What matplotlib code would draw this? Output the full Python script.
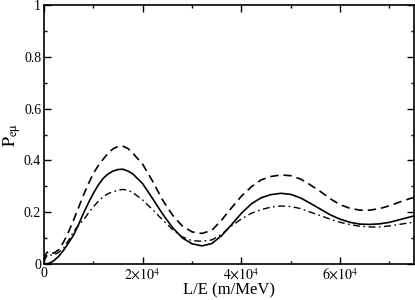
import matplotlib
matplotlib.use("Agg")
import matplotlib.pyplot as plt
from matplotlib.ticker import MultipleLocator, FuncFormatter

plt.rcParams['font.family'] = ['Liberation Serif', 'DejaVu Serif']
plt.rcParams['mathtext.fontset'] = 'stix'

# L/E in units of 1e4 m/MeV
le = [0, 0.05, 0.1, 0.15, 0.2, 0.3, 0.4, 0.5, 0.6, 0.7, 0.8, 0.9, 1.0, 1.1, 1.2, 1.3, 1.4,
      1.5, 1.6, 1.7, 1.8, 2.0, 2.2, 2.4, 2.6, 2.8, 3.0, 3.2, 3.4, 3.6, 3.8, 4.0, 4.2, 4.4,
      4.6, 4.8, 5.0, 5.2, 5.4, 5.6, 5.8, 6.0, 6.2, 6.4, 6.6, 6.8, 7.0, 7.2, 7.4, 7.5]

p_solid = [0, 0.001, 0.003, 0.007, 0.013, 0.03, 0.054, 0.082, 0.112, 0.152, 0.196, 0.236,
           0.273, 0.305, 0.331, 0.348, 0.359, 0.365, 0.366, 0.359, 0.348, 0.31, 0.253,
           0.194, 0.142, 0.101, 0.078, 0.07, 0.079, 0.11, 0.152, 0.196, 0.232, 0.256,
           0.268, 0.273, 0.269, 0.255, 0.234, 0.212, 0.19, 0.173, 0.161, 0.154, 0.153,
           0.155, 0.161, 0.171, 0.181, 0.186]

p_dash = [0.02, 0.042, 0.05, 0.043, 0.042, 0.055, 0.086, 0.125, 0.17, 0.218, 0.266, 0.31,
          0.35, 0.38, 0.405, 0.428, 0.445, 0.454, 0.455, 0.446, 0.428, 0.385, 0.32,
          0.248, 0.19, 0.147, 0.124, 0.118, 0.13, 0.17, 0.217, 0.262, 0.298, 0.325,
          0.338, 0.344, 0.341, 0.328, 0.305, 0.28, 0.252, 0.229, 0.215, 0.208, 0.208,
          0.214, 0.225, 0.239, 0.252, 0.257]

p_dashdot = [0.01, 0.03, 0.038, 0.034, 0.035, 0.045, 0.062, 0.092, 0.125, 0.15, 0.17, 0.197,
             0.221, 0.242, 0.26, 0.272, 0.279, 0.285, 0.288, 0.285, 0.276, 0.247, 0.21,
             0.171, 0.134, 0.105, 0.09, 0.088, 0.093, 0.115, 0.147, 0.174, 0.196, 0.21,
             0.22, 0.224, 0.222, 0.214, 0.2, 0.187, 0.173, 0.161, 0.152, 0.146, 0.143,
             0.143, 0.147, 0.153, 0.159, 0.162]

x = [v * 1e4 for v in le]

fig = plt.figure(figsize=(4.15, 3.0), dpi=100)
ax = fig.add_axes([0.106, 0.12, 0.892, 0.863])

ax.plot(x, p_solid, color='black', lw=1.2)
ax.plot(x, p_dash, color='black', lw=1.2, dashes=(5, 3))
ax.plot(x, p_dashdot, color='black', lw=1.0, dashes=(5, 2.5, 1.2, 2.5))

ax.set_xlim(0, 7.5e4)
ax.set_ylim(0, 1)

ax.xaxis.set_major_locator(MultipleLocator(2e4))
ax.xaxis.set_minor_locator(MultipleLocator(1e4))
ax.yaxis.set_major_locator(MultipleLocator(0.2))
ax.yaxis.set_minor_locator(MultipleLocator(0.1))

def xfmt(v, pos):
    if v == 0:
        return '0'
    return r'$%d{\times}10^4$' % round(v / 1e4)

def yfmt(v, pos):
    if abs(v) < 1e-9:
        return '0'
    if abs(v - 1) < 1e-9:
        return '1'
    return '%.1f' % v

ax.xaxis.set_major_formatter(FuncFormatter(xfmt))
ax.yaxis.set_major_formatter(FuncFormatter(yfmt))

ax.tick_params(which='both', direction='in', top=True, right=True, labelsize=10, width=1)
ax.tick_params(which='major', length=5)
ax.tick_params(which='minor', length=2.5)
ax.tick_params(axis='x', pad=2)
ax.tick_params(axis='y', pad=2)
for s in ax.spines.values():
    s.set_linewidth(1.2)

ax.set_xlabel('L/E (m/MeV)', fontsize=12, labelpad=0)
ax.set_ylabel(r'$\mathrm{P_{e\mu}}$', fontsize=13, labelpad=1)

fig.savefig('out.png', dpi=100)
